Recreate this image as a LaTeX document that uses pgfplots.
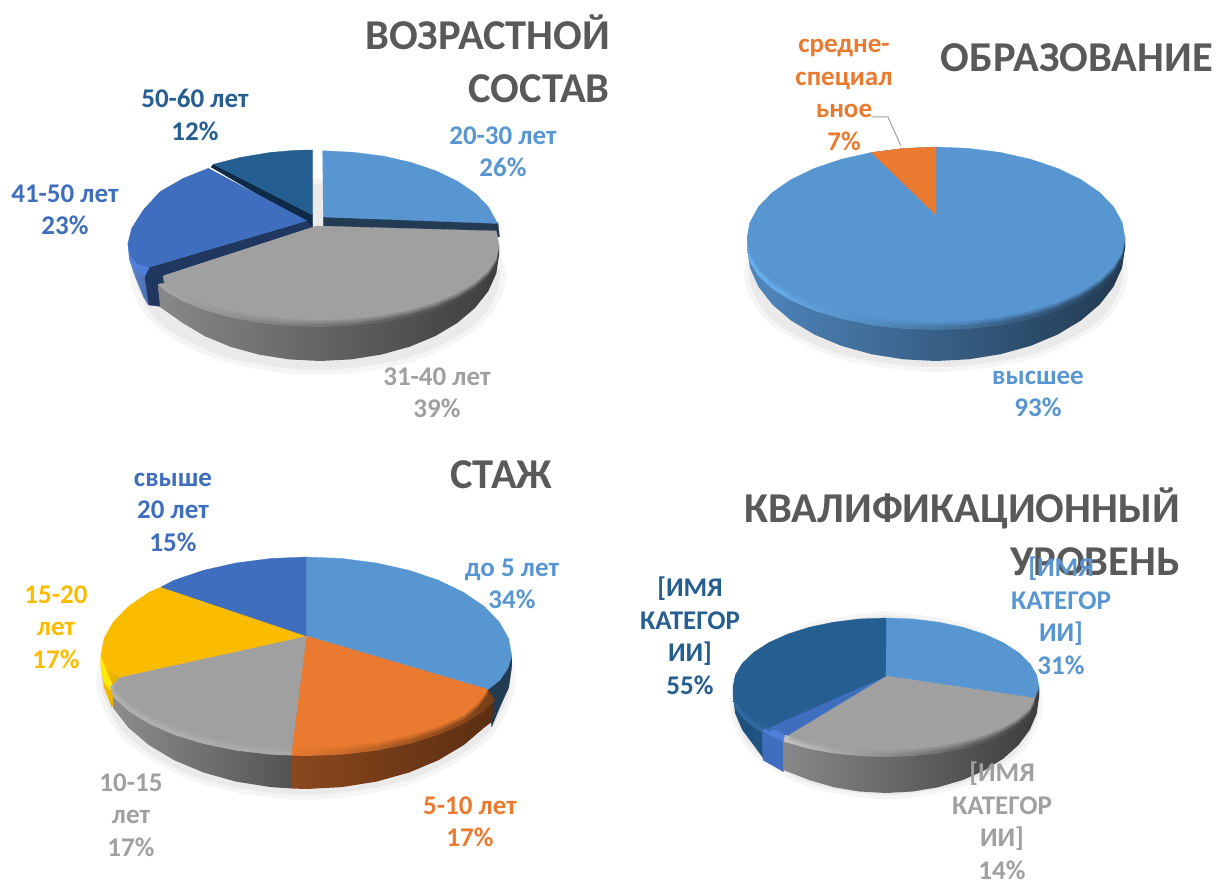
\documentclass[border=0pt]{standalone}
\usepackage{fontspec}
\setmainfont{Carlito}
\usepackage{pgfplots}
\usepackage{pgfplotstable}
\pgfplotsset{compat=1.18}
\definecolor{cB}{HTML}{5896D2}
\definecolor{cO}{HTML}{E97A2F}
\definecolor{cG}{HTML}{A0A0A0}
\definecolor{cY}{HTML}{FBBC00}
\definecolor{cI}{HTML}{3F6EBE}
\definecolor{cD}{HTML}{255E91}
\definecolor{cT}{HTML}{595959}
\definecolor{sh1}{HTML}{F5F5F5}
\definecolor{sh2}{HTML}{EAEAEA}
\definecolor{band}{HTML}{0F2A48}
\definecolor{oL}{HTML}{8A481E}
\definecolor{oR}{HTML}{5A2E12}
\definecolor{gA}{HTML}{B0B0B0}
\definecolor{gB}{HTML}{D4D4D4}
\definecolor{gC}{HTML}{A8A8A8}
\definecolor{gE}{HTML}{C4C4C4}
\definecolor{iR}{HTML}{4F7FDB}
\definecolor{bR}{HTML}{6AB2F2}
\tikzset{
  flat/.style={fill=#1,draw=#1,line width=0.3pt,line join=round},
  ttl/.style={font=\fontsize{42.5}{53}\selectfont\bfseries,text=cT,inner sep=0pt,anchor=east,align=right},
  lab/.style={font=\fontsize{27}{32.5}\selectfont\bfseries,text=#1,inner sep=0pt,align=center},
}
\pgfplotstableread[row sep=crcr]{x y\\316.7 226\\496.3 231\\499 245\\496.3 258\\488.2 270.7\\475 282.5\\457.1 293.2\\435.1 302.5\\409.5 310\\381.2 315.5\\351.1 318.9\\320 320\\288.9 318.9\\258.8 315.5\\230.5 310\\204.9 302.5\\182.9 293.2\\165 282.5\\163 276\\}\gA
\pgfplotstableread[row sep=crcr]{x y\\936 147\\968.8 148.4\\1000.6 152.5\\1030.5 159.2\\1057.5 168.3\\1080.8 179.5\\1099.7 192.5\\1113.6 206.9\\1122.1 222.2\\1125 238\\1122.1 252.6\\1113.6 266.7\\1099.7 280\\1080.8 292\\1057.5 302.3\\1030.5 310.7\\1000.6 316.9\\968.8 320.7\\936 322\\903.2 320.7\\871.4 316.9\\841.5 310.7\\814.5 302.3\\791.2 292\\772.3 280\\758.4 266.7\\749.9 252.6\\747 238\\749.9 222.2\\758.4 206.9\\772.3 192.5\\791.2 179.5\\814.5 168.3\\841.5 159.2\\871.4 152.5\\903.2 148.4\\}\bB
\pgfplotstableread[row sep=crcr]{x y\\306.3 636\\488 689.5\\478 703\\463.7 715.1\\438.4 726.5\\409.1 735.7\\376.6 742.5\\342 746.6\\306.3 748\\292 747.5\\}\oC
\pgfplotstableread[row sep=crcr]{x y\\306.3 636\\292 747.5\\270.6 746.6\\236 742.5\\203.5 735.7\\174.2 726.5\\148.9 715.1\\128.3 702\\113.2 687.5\\120 677\\}\gCt
\pgfplotstableread[row sep=crcr]{x y\\885.7 676\\1035 698\\1029.8 708.5\\1018.5 718.5\\1003.2 727.5\\984.3 735.3\\962.5 741.6\\938.3 746.2\\912.6 749\\886 750\\859.4 749\\833.7 746.2\\809.5 741.6\\787.7 735.3\\}\gD
\pgfplotstableread[row sep=crcr]{x y\\885.7 676\\768.8 727.5\\753.5 718.5\\742.2 708.5\\735.3 697.9\\733 687\\735.3 675\\742.2 663.4\\753.5 652.5\\768.8 642.6\\787.7 634.1\\809.5 627.2\\833.7 622.2\\859.4 619\\886 618\\}\dD
\newcommand\soft[2]{%
  \addplot[fill=#2,draw=none,fill opacity=.3,yshift=-4.5pt] table {#1} -- cycle;
  \addplot[fill=#2,draw=none,fill opacity=.35,yshift=-3pt] table {#1} -- cycle;
  \addplot[fill=#2,draw=none,fill opacity=.4,yshift=-1.5pt] table {#1} -- cycle;
}
\begin{document}
\begin{tikzpicture}
\useasboundingbox (0,0) rectangle (1216pt,882pt);
\begin{axis}[scale only axis,width=1216pt,height=882pt,xmin=0,xmax=1216,ymin=0,ymax=882,y dir=reverse,hide axis,clip=false,anchor=south west,at={(0,0)}]

% ---------- PIE 1 ----------
\addplot[smooth,fill=sh1,draw=none] coordinates {(318,179)(412,192.1)(480.8,228)(506,277)(480.8,326)(412,361.9)(318,375)(224,361.9)(155.2,326)(130,277)(155.2,228)(224,192.1)(318,179)} -- cycle;
\addplot[smooth,fill=sh2,draw=none] coordinates {(318,184)(409,196.5)(475.6,230.5)(500,277)(475.6,323.5)(409,357.5)(318,370)(227,357.5)(160.4,323.5)(136,277)(160.4,230.5)(227,196.5)(318,184)} -- cycle;
% dark slice
\addplot[flat=band] coordinates {(211,167)(213.3,164.3)(312.7,215)(312.7,229)(306.7,223)} -- cycle;
\addplot[flat=cD] coordinates {(312.7,215)(213.3,164.3)(240,157.5)(270,152.5)(295,150.3)(312.7,150)} -- cycle;
% blue slice
\addplot[draw=none,left color=cI!80!white,right color=cI!85!black] coordinates {(127.7,243)(129.3,260)(135,276.7)(143.3,296.7)(148.3,305)(160,300)(150,267)} -- cycle;
\addplot[draw=none,fill=iR] coordinates {(127.7,243)(129,256)(134,268)(145,277)(150,267)(138,262)} -- cycle;
\addplot[flat=cI!50!black] coordinates {(306.7,220.7)(313,227)(165,275)(165,307)(149,305)(145,277)(150,267)} -- cycle;
\addplot[flat=cI] coordinates {(306.7,220.7)(208.3,168.3)(183.3,178.3)(160,191.7)(143.3,210)(131.7,228.3)(128,243)(131,256)(138,264)(150,267)} -- cycle;
% light slice
\addplot[flat=cB!40!black] coordinates {(323.3,217)(498,222.7)(499.5,237)(323.3,226)} -- cycle;
\addplot[flat=cB] coordinates {(323.3,217)(322.7,150.7)(353.6,152.3)(383.2,156.1)(411,162.4)(436.1,170.9)(457.8,181.4)(475.4,193.5)(488.4,206.9)(496.3,221.2)(498,223.5)} -- cycle;
% gray slice
\addplot[draw=none,left color=cG!85!black,middle color=cG!62!black,right color=cG!38!black] coordinates {(499,245)(499,255)(496.3,273.4)(488.2,291.3)(475,308)(457.1,323.1)(435.1,336.2)(409.5,346.8)(381.2,354.6)(351.1,359.4)(320,361)(288.9,359.4)(258.8,354.6)(230.5,346.8)(204.9,336.2)(182.9,323.1)(160,307)(158,284)} -- cycle;
\addplot[draw=none,left color=gC,middle color=gB,right color=cG!40!black] coordinates {(499,245)(499,255)(496.3,267.5)(488.2,279.6)(475,291)(457.1,301.3)(435.1,310.2)(409.5,317.4)(381.2,322.7)(351.1,325.9)(320,327)(288.9,325.9)(258.8,322.7)(230.5,317.4)(204.9,310.2)(182.9,301.3)(165,291)(158,284)} -- cycle;
\soft{\gA}{cG}
\addplot[flat=cG] table {\gA} -- cycle;

% ---------- PIE 2 ----------
\addplot[smooth,fill=sh1,draw=none] coordinates {(936,178)(1032,191)(1102.3,226.5)(1128,275)(1102.3,323.5)(1032,359)(936,372)(840,359)(769.7,323.5)(744,275)(769.7,226.5)(840,191)(936,178)} -- cycle;
\addplot[smooth,fill=sh2,draw=none] coordinates {(936,183)(1029.5,195.3)(1097.9,229)(1123,275)(1097.9,321)(1029.5,354.7)(936,367)(842.5,354.7)(774.1,321)(749,275)(774.1,229)(842.5,195.3)(936,183)} -- cycle;
\addplot[draw=none,left color=cB!90!black,middle color=cB!62!black,right color=cB!38!black] coordinates {(1125,238)(1125,248)(1122.1,267.6)(1113.6,286.6)(1099.7,304.5)(1080.8,320.6)(1057.5,334.6)(1030.5,345.9)(1000.6,354.2)(968.8,359.3)(936,361)(903.2,359.3)(871.4,354.2)(841.5,345.9)(814.5,334.6)(791.2,320.6)(772.3,304.5)(758.4,286.6)(749.9,267.6)(747,248)(747,238)} -- cycle;
\addplot[draw=none,left color=bR,middle color=bR,right color=cB!42!black] coordinates {(1125,238)(1125,248)(1122.1,262.2)(1113.6,276)(1099.7,289)(1080.8,300.7)(1057.5,310.8)(1030.5,319)(1000.6,325.1)(968.8,328.8)(936,330)(903.2,328.8)(871.4,325.1)(841.5,319)(814.5,310.8)(791.2,300.7)(772.3,289)(758.4,276)(749.9,262.2)(747,248)(747,238)} -- cycle;
\soft{\bB}{cB}
\addplot[flat=cB] table {\bB} -- cycle;
\addplot[flat=cO] coordinates {(936,215)(871.4,152.5)(903.2,148.4)(936,147)} -- cycle;
\addplot[color=cG,line width=1pt] coordinates {(872,117)(888,117)(901,146)};

% ---------- PIE 3 ----------
\addplot[smooth,fill=sh1,draw=none] coordinates {(306,560)(411,576.1)(487.9,620)(516,680)(487.9,740)(411,783.9)(306,800)(201,783.9)(124.1,740)(96,680)(124.1,620)(201,576.1)(306,560)} -- cycle;
\addplot[smooth,fill=sh2,draw=none] coordinates {(306,565)(408.5,580.4)(483.5,622.5)(511,680)(483.5,737.5)(408.5,779.6)(306,795)(203.5,779.6)(128.5,737.5)(101,680)(128.5,622.5)(203.5,580.4)(306,565)} -- cycle;
% sides
\addplot[flat=cB!40!black] coordinates {(511.8,656)(511.8,666)(508.7,687.4)(499.4,708.1)(491.7,726.7)(488,689.5)} -- cycle;
\addplot[draw=none,left color=cY!95!yellow,right color=cY!90!black] coordinates {(100.8,656)(100.8,666)(103.9,687.4)(112,708)(120,677)} -- cycle;
\addplot[flat=yellow!85!cY] coordinates {(100.8,656)(100.8,666)(103.9,681.6)(110,690)(113,687.5)} -- cycle;
\addplot[draw=none,left color=cG!88!black,right color=cG!52!black] coordinates {(113.2,687.5)(113.2,708.1)(128.3,727.5)(148.9,745.1)(174.2,760.2)(203.5,772.5)(236,781.6)(270.6,787.1)(292,788.5)(292,748)} -- cycle;
\addplot[draw=none,left color=oL,right color=oR] coordinates {(488,689.5)(494,703)(491.7,722)(484.3,727.5)(463.7,745.1)(438.4,760.2)(409.1,772.5)(376.6,781.6)(342,787.1)(306.3,789)(292,788.5)(292,748)} -- cycle;
% rims
\addplot[draw=none,left color=gA,middle color=gB,right color=gC] coordinates {(292,745)(292,755.5)(270.6,754.6)(236,750.6)(203.5,743.9)(174.2,734.9)(148.9,723.9)(128.3,711)(113.2,696.8)(110,687)(120,677)} -- cycle;
\addplot[draw=none,left color=cO,middle color=cO,right color=cO!50!black] coordinates {(488,689.5)(495,700)(484.3,711)(463.7,723.9)(438.4,734.9)(409.1,743.9)(376.6,750.6)(342,754.6)(306.3,756)(292,755.5)(292,743)} -- cycle;
% faces
\addplot[flat=cB] coordinates {(306.3,636)(306.3,557)(342,558.5)(376.6,563)(409.1,570.3)(438.4,580.2)(463.7,592.4)(484.3,606.5)(499.4,622.1)(508.7,638.8)(511.8,656)(508,668)(500,680)(488,689.5)} -- cycle;
\soft{\oC}{cO}
\soft{\gCt}{cG}
\addplot[flat=cO] table {\oC} -- cycle;
\addplot[flat=cG] table {\gCt} -- cycle;
\addplot[flat=cY] coordinates {(306.3,636)(120,677)(108,670)(100.8,656)(103.9,638.8)(113.2,622.1)(128.3,606.5)(148.9,592.4)(161,587)} -- cycle;
\addplot[flat=cI] coordinates {(306.3,636)(161,587)(174.2,580.2)(203.5,570.3)(236,563)(270.6,558.5)(306.3,557)} -- cycle;

% ---------- PIE 4 ----------
\addplot[smooth,fill=sh1,draw=none] coordinates {(886,611)(964.5,623.6)(1022,658)(1043,705)(1022,752)(964.5,786.4)(886,799)(807.5,786.4)(750,752)(729,705)(750,658)(807.5,623.6)(886,611)} -- cycle;
\addplot[smooth,fill=sh2,draw=none] coordinates {(886,615)(962.5,627.1)(1018.5,660)(1039,705)(1018.5,750)(962.5,782.9)(886,795)(809.5,782.9)(753.5,750)(733,705)(753.5,660)(809.5,627.1)(886,615)} -- cycle;
% sides
\addplot[draw=none,left color=cD!85!black,right color=cD!90!black] coordinates {(733,687)(733,697)(735.3,713.7)(742.2,729.8)(753.5,745)(763,758)(768.8,727.5)} -- cycle;
\addplot[flat=cI] coordinates {(762,731)(763,760)(783.5,771.7)(783.5,741)} -- cycle;
\addplot[draw=none,left color=cG!85!black,middle color=cG!55!black,right color=cG!38!black] coordinates {(1039,687)(1039,697)(1036.7,713.7)(1029.8,729.8)(1018.5,745)(1003.2,758.7)(984.3,770.5)(962.5,780.1)(938.3,787.2)(912.6,791.5)(886,793)(859.4,791.5)(833.7,787.2)(809.5,780.1)(783.5,770)(783.5,735)} -- cycle;
% rims
\addplot[flat=cD!80!cB] coordinates {(733,687)(733,697)(735.3,707.4)(742.2,717.5)(753.5,727)(763,733)(768.8,727.5)} -- cycle;
\addplot[flat=iR] coordinates {(762,731)(783.5,741.5)(790,735)(768,727)} -- cycle;
\addplot[draw=none,left color=gE,middle color=gE,right color=cG!38!black] coordinates {(1039,687)(1039,697)(1036.7,707.4)(1029.8,717.5)(1018.5,727)(1003.2,735.6)(984.3,743)(962.5,749)(938.3,753.4)(912.6,756.1)(886,757)(859.4,756.1)(833.7,753.4)(809.5,749)(783.5,741.5)(785,735)} -- cycle;
% faces
\soft{\gD}{cG}
\soft{\dD}{cD}
\addplot[flat=cB] coordinates {(885.7,676)(886,618)(912.6,619)(938.3,622.2)(962.5,627.2)(984.3,634.1)(1003.2,642.6)(1018.5,652.5)(1029.8,663.4)(1036.7,675)(1039,687)(1035,698)} -- cycle;
\addplot[flat=cG] table {\gD} -- cycle;
\addplot[flat=cI] coordinates {(885.7,676)(787.7,735.3)(768.8,727.5)} -- cycle;
\addplot[flat=cD] table {\dD} -- cycle;

% ---------- TEXT ----------
\node[ttl] at (axis cs:610,59) {ВОЗРАСТНОЙ\\СОСТАВ};
\node[ttl] at (axis cs:1213,58) {ОБРАЗОВАНИЕ};
\node[ttl] at (axis cs:552,475) {СТАЖ};
\node[ttl] at (axis cs:1180,532) {КВАЛИФИКАЦИОННЫЙ\\УРОВЕНЬ};
\node[lab=cD] at (axis cs:195,115) {50-60 лет\\12\%};
\node[lab=cB] at (axis cs:503,152) {20-30 лет\\26\%};
\node[lab=cI] at (axis cs:65,210) {41-50 лет\\23\%};
\node[lab=cG] at (axis cs:437,393) {31-40 лет\\39\%};
\node[lab=cO] at (axis cs:844,95) {средне-\\специал\\ьное\\7\%};
\node[lab=cB] at (axis cs:1038,394) {высшее\\93\%};
\node[lab=cI] at (axis cs:173,512) {свыше\\20 лет\\15\%};
\node[lab=cB] at (axis cs:512,584) {до 5 лет\\34\%};
\node[lab=cY] at (axis cs:56,627) {15-20\\лет\\17\%};
\node[lab=cG] at (axis cs:131,815) {10-15\\лет\\17\%};
\node[lab=cO] at (axis cs:470,822) {5-10 лет\\17\%};
\node[lab=cB] at (axis cs:1061,616) {[ИМЯ\\КАТЕГОР\\ИИ]\\31\%};
\node[lab=cD] at (axis cs:690,636) {[ИМЯ\\КАТЕГОР\\ИИ]\\55\%};
\node[lab=cG] at (axis cs:1002,821) {[ИМЯ\\КАТЕГОР\\ИИ]\\14\%};
\end{axis}
\end{tikzpicture}
\end{document}
